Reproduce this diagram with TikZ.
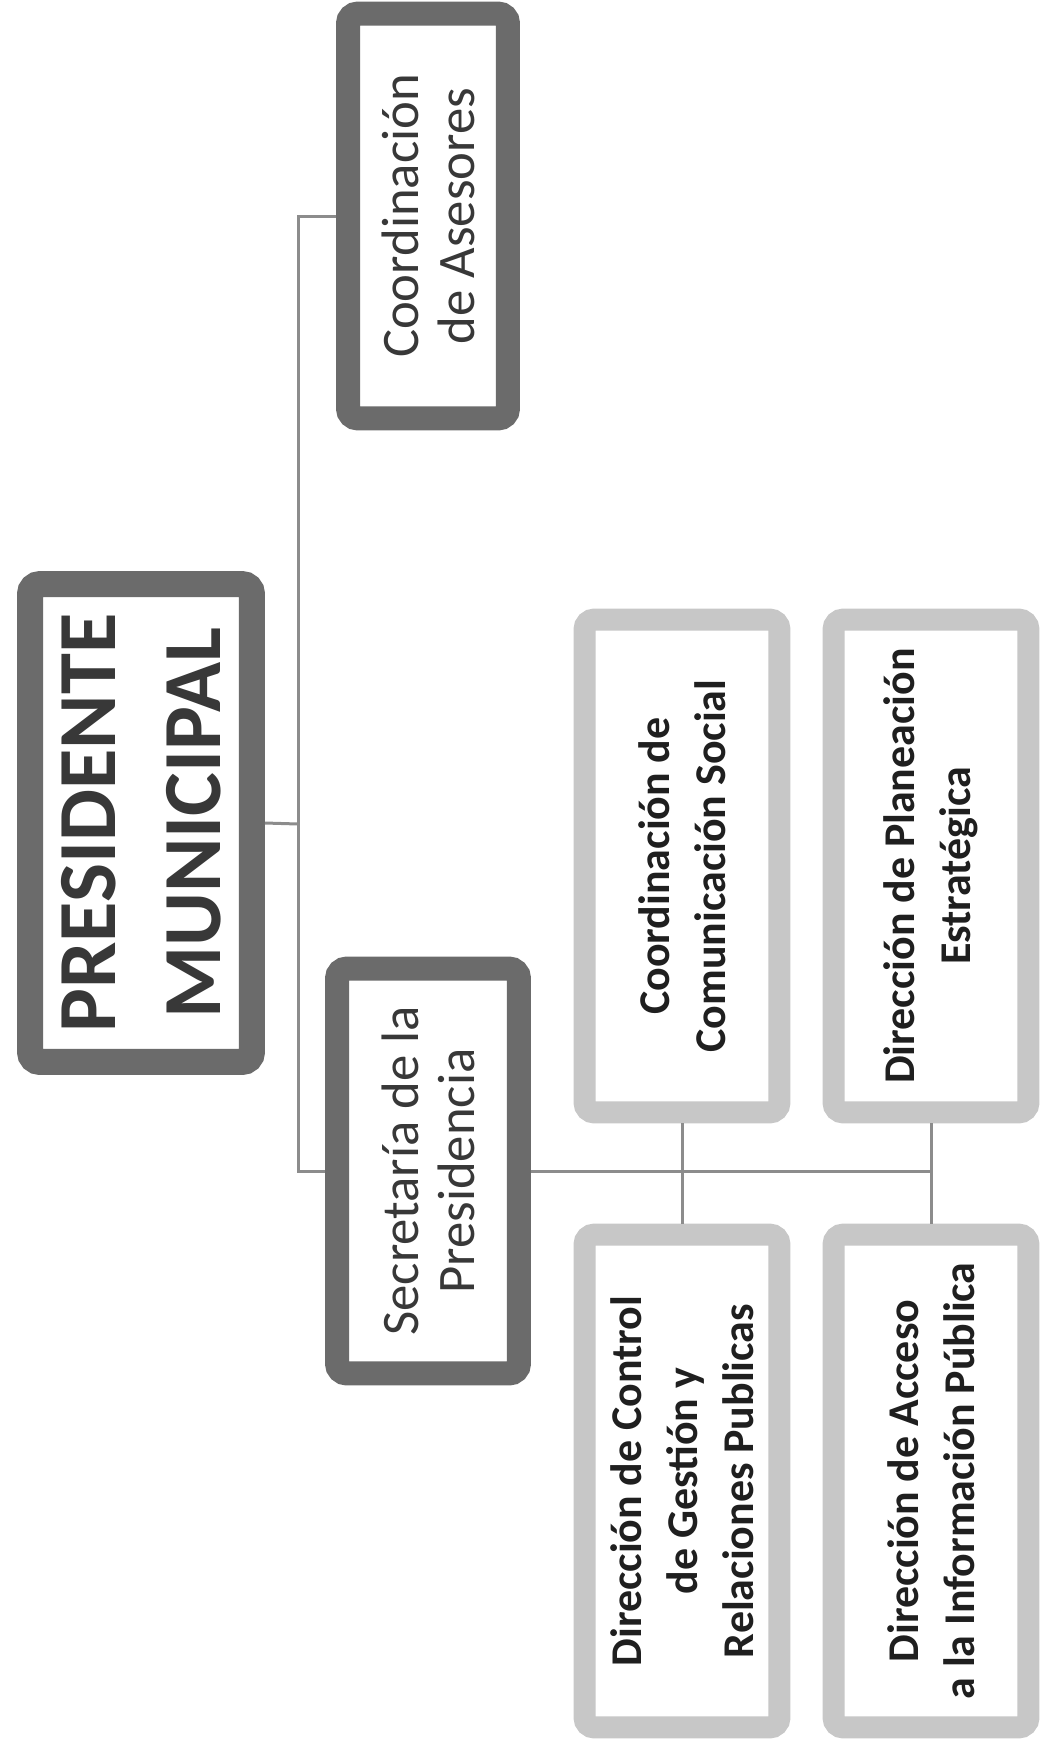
\documentclass[tikz,border=0pt]{standalone}
\usepackage{fontspec}
\setmainfont{Carlito}

\begin{document}
\begin{tikzpicture}
[x=0.02cm, y=-0.02cm,
every node/.style={rotate=90, align=center, fill=white, rounded corners=0.2cm, inner sep=0pt},
head/.style={draw=black!58, line width=0.52cm, minimum width=9.56cm, minimum height=4.44cm,
  text=black!78, font=\fontsize{47}{60}\selectfont\bfseries},
staff/.style={draw=black!58, line width=0.48cm, minimum width=8.1cm,
  text=black!78, font=\fontsize{30}{32}\selectfont},
unit/.style={draw=black!22, line width=0.44cm, minimum width=9.86cm, minimum height=3.9cm,
  text=black!88, font=\fontsize{25}{32}\selectfont\bfseries},
link/.style={draw=black!45, line width=0.06cm}]

\useasboundingbox (0,0) rectangle (1045,1758);

% top level and staff
\node[head] (pres) at (141,823) {PRESIDENTE\\MUNICIPAL};
\node[staff, minimum height=3.2cm] (ase) at (428,216) {Coordinación\\de Asesores};
\node[staff, minimum height=3.64cm] (sec) at (428,1171) {Secretaría de la\\Presidencia};

% units under the secretary
\node[unit] (com) at (682,866) {Coordinación de\\Comunicación Social};
\node[unit] (pla) at (931,866) {Dirección de Planeación\\Estratégica};
\node[unit] (ctl) at (682,1481) {Dirección de Control\\de Gestión y\\Relaciones Publicas};
\node[unit] (acc) at (931,1481) {Dirección de Acceso\\a la Información Pública};

% connectors
\coordinate (spine) at (298,824);
\draw[link] (pres.south) -- (spine);
\draw[link] (ase.north) -| (spine) |- (sec.north);
\draw[link] (sec.south) -- (sec.south -| pla.west);
\draw[link] (com.west) -- (ctl.east);
\draw[link] (pla.west) -- (acc.east);
\end{tikzpicture}
\end{document}
